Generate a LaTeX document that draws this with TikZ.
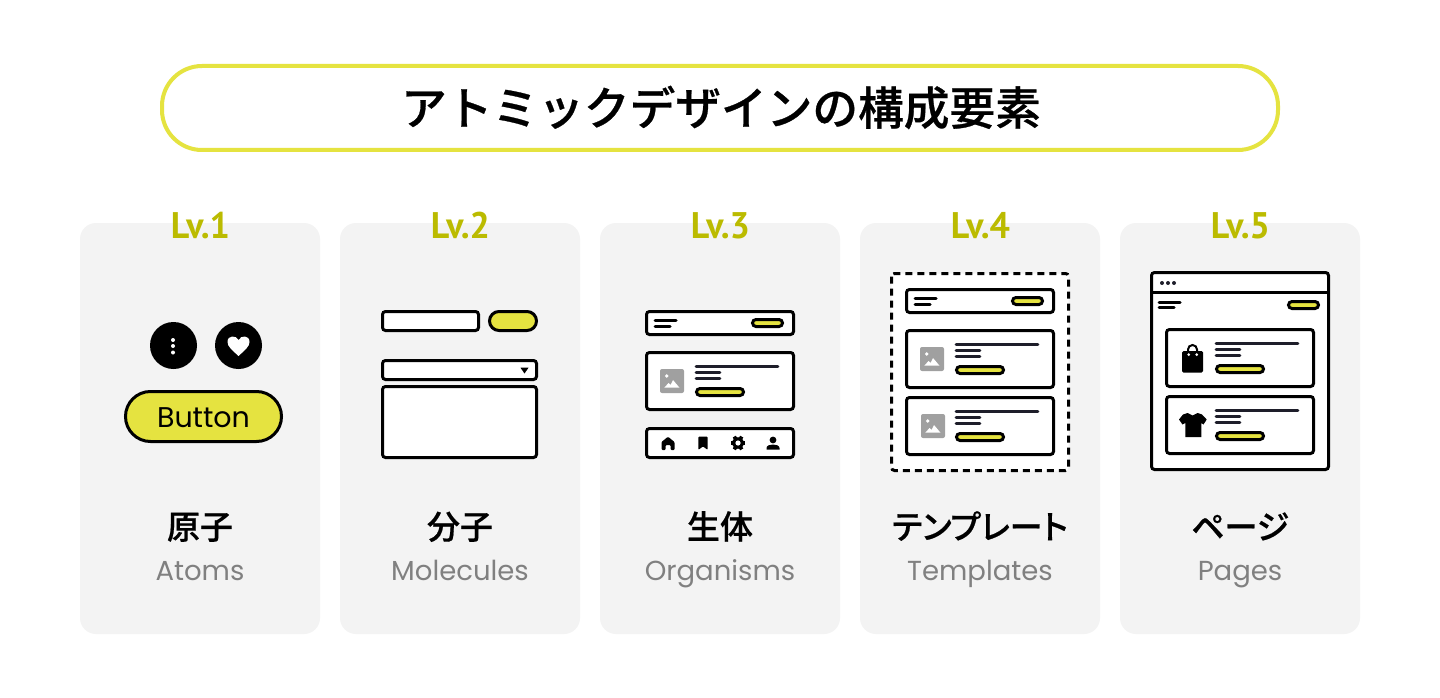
\documentclass[tikz,border=0pt]{standalone}
\usepackage{fontspec}
\setmainfont{Poppins}
\newfontfamily\cjk[RawFeature=+palt, FakeBold=0.6]{Noto Sans CJK JP Medium}
\newfontfamily\cjktitle[FakeBold=0.6]{Noto Sans CJK JP Medium}
\newfontfamily\lvfont[FakeStretch=0.97]{PT Sans}
\definecolor{btnyellow}{HTML}{E5E340}
\definecolor{lvyellow}{HTML}{BBBB00}
\definecolor{cardgray}{HTML}{F3F3F3}
\definecolor{icongray}{HTML}{A0A0A0}
\definecolor{textgray}{HTML}{808080}
\definecolor{txtdark}{HTML}{1E1E2A}
\newcommand{\imgicon}[2]{%
	\begin{scope}[shift={(#1,#2)}]
		\fill[icongray, rounded corners=2pt] (0,0) rectangle (24,24);
		\fill[white] (6.7,7) circle[radius=1.8];
		\fill[white] (4.3,18.7) -- (8.5,14) -- (10.5,16) -- (13,11) -- (19.5,18.7) -- cycle;
	\end{scope}}
\newcommand{\bagicon}{%
	\fill[black, rounded corners=1.5pt] (17,23) rectangle (38,44.7);
	\fill[white] (23.7,26.7) circle[radius=1.5] (31.7,26.7) circle[radius=1.5];
	\draw[black, line width=2pt] (23,23) -- (23,21.5) arc[start angle=180, end angle=360, radius=4.5] -- (32,23);}
\newcommand{\shirticon}{%
	\fill[black] (22.5,18) -- (27.5,20.5) -- (32.5,18) -- (37,19.5) -- (41.7,24.5) -- (38.5,29.5) -- (36.3,28) -- (36.3,42) -- (20.3,42) -- (20.3,28) -- (17.5,29.5) -- (14,24.5) -- (18,19.5) -- cycle;}
% item box, origin at its top left corner
\newcommand{\itembox}[1]{%
	\draw[box] (1.5,1.5) rectangle (148.5,58.5);
	#1
	\draw[txtline] (51,15.3) -- (133,15.3);
	\draw[txtline] (51,21.3) -- (75,21.3);
	\draw[txtline] (51,27.3) -- (75,27.3);
	\draw[minipill] (51.5,37.5) rectangle (98.5,44.5);}
% top bar, origin at its top left corner
\newcommand{\headbar}{%
	\draw[box] (1.5,1.5) rectangle (148.5,24.5);
	\draw[barline] (10,10.7) -- (31,10.7);
	\draw[barline] (10,16) -- (25,16);
	\draw[minipill] (107.5,9.5) rectangle (137.5,16.5);}
\begin{document}
\begin{tikzpicture}[x=1pt, y=-1pt,
	box/.style = {draw=black, line width=3pt, fill=white, rounded corners=3pt},
	minipill/.style = {draw=black, line width=3pt, fill=btnyellow, rounded corners=3.5pt},
	txtline/.style = {draw=txtdark, line width=2.6pt, line cap=round},
	barline/.style = {draw=black, line width=3pt, line cap=round},
	lvlabel/.style = {anchor=base, text=lvyellow, font=\fontsize{37}{37}\selectfont\lvfont\bfseries},
	jplabel/.style = {anchor=base, text=black, font=\fontsize{33}{33}\selectfont\cjk},
	enlabel/.style = {anchor=base, text=textgray, font=\fontsize{27.5}{27.5}\selectfont}]
	\useasboundingbox (0,0) rectangle (1440,698);
	\fill[white] (0,0) rectangle (1440,698);
	%%%%%%%%%%%%%%%%%%% Title
	\draw[draw=btnyellow, line width=4pt, fill=white, rounded corners=40pt] (162,66) rectangle (1278,150);
	\node[anchor=base] (title) at (721,125) {\fontsize{45.7}{45.7}\selectfont\cjktitle アトミックデザインの構成要素};
	%%%%%%%%%%%%%%%%%%% Cards
	\foreach \x/\jp/\en [count=\xi] in {200/原子/Atoms, 460/分子/Molecules, 720/生体/Organisms, 980/テンプレート/Templates, 1240/ページ/Pages} {
		\fill[cardgray, rounded corners=16pt] (\x-120,223) rectangle (\x+120,634);
		\node[lvlabel] (lv\xi) at (\x+0.5,238) {Lv.\xi};
		\node[jplabel] (jp\xi) at (\x,539) {\jp};
		\node[enlabel] (en\xi) at (\x,580) {\en};
	}
	%%%%%%%%%%%%%%%%%%% Level 1
	\fill[black] (173.5,345.5) circle[radius=23.5];
	\fill[black] (238.5,345.5) circle[radius=23.5];
	\foreach \y in {340,346,352.5} {
		\fill[white] (173,\y) circle[radius=2];
	}
	\fill[white] (238.5,356) .. controls (232,350) and (227.5,346.5) .. (227.5,342) .. controls (227.5,335) and (236,335) .. (238.5,340) .. controls (241,335) and (249.5,335) .. (249.5,342) .. controls (249.5,346.5) and (245,350) .. (238.5,356);
	\draw[draw=black, line width=3pt, fill=btnyellow, rounded corners=25pt] (125.5,391.5) rectangle (281.5,441.5);
	\node[anchor=base] (button) at (203.5,427) {\fontsize{28.5}{28.5}\selectfont Button};
	%%%%%%%%%%%%%%%%%%% Level 2
	\draw[box] (382.5,311.5) rectangle (478.5,330.5);
	\draw[box, fill=btnyellow, rounded corners=9.5pt] (489.5,311.5) rectangle (536.5,330.5);
	\draw[box] (382.5,360.5) rectangle (536.5,379.5);
	\fill[black, line join=round] (520.5,367.7) -- (528.5,367.7) -- (524.5,373.5) -- cycle;
	\draw[box] (382.5,386.5) rectangle (536.5,457.5);
	%%%%%%%%%%%%%%%%%%% Level 3
	\begin{scope}[shift={(645,310)}]
		\headbar
	\end{scope}
	\begin{scope}[shift={(645,351)}]
		\itembox{\imgicon{15}{18}}
	\end{scope}
	\draw[box] (646.5,428.5) rectangle (793.5,457.5);
	% home
	\fill[black, rounded corners=1pt] (668,436.7) -- (674.5,442) -- (674.5,450) -- (670.5,450) -- (670.5,445) -- (665.5,445) -- (665.5,450) -- (661.5,450) -- (661.5,442) -- cycle;
	% bookmark
	\fill[black, rounded corners=0.8pt] (698.3,436.7) -- (707.7,436.7) -- (707.7,449.8) -- (703,446.5) -- (698.3,449.8) -- cycle;
	% gear
	\foreach \a in {0,60,...,300} {
		\draw[black, line width=3.6pt] (738,443) -- ++(\a:7.4);
	}
	\fill[black] (738,443) circle[radius=5.8];
	\fill[white] (738,443) circle[radius=2.6];
	% person
	\fill[black] (773,440) circle[radius=3.4];
	\fill[black] (766.5,449.5) -- (766.5,448) .. controls (766.5,445.5) and (770,444.5) .. (773,444.5) .. controls (776,444.5) and (779.5,445.5) .. (779.5,448) -- (779.5,449.5) -- cycle;
	%%%%%%%%%%%%%%%%%%% Level 4
	\draw[draw=black, line width=3pt, fill=white, dash pattern=on 7pt off 5pt, rounded corners=3pt] (891.5,273.5) rectangle (1068.5,470.5);
	\begin{scope}[shift={(905,288)}]
		\headbar
	\end{scope}
	\begin{scope}[shift={(905,329)}]
		\itembox{\imgicon{15}{18}}
	\end{scope}
	\begin{scope}[shift={(905,396)}]
		\itembox{\imgicon{16}{18}}
	\end{scope}
	%%%%%%%%%%%%%%%%%%% Level 5
	\draw[box] (1151.5,272.5) rectangle (1328.5,469.5);
	\draw[draw=black, line width=3pt] (1151.5,292) -- (1328.5,292);
	\foreach \x in {1162,1168,1174} {
		\fill[txtdark] (\x,283) circle[radius=2];
	}
	\draw[barline] (1159,302.3) -- (1180,302.3);
	\draw[barline] (1159,307.3) -- (1174,307.3);
	\draw[minipill] (1288.5,301.5) rectangle (1318.5,308.5);
	\begin{scope}[shift={(1165,328)}]
		\itembox{\bagicon}
	\end{scope}
	\begin{scope}[shift={(1165,395)}]
		\itembox{\shirticon}
	\end{scope}
\end{tikzpicture}
\end{document}
